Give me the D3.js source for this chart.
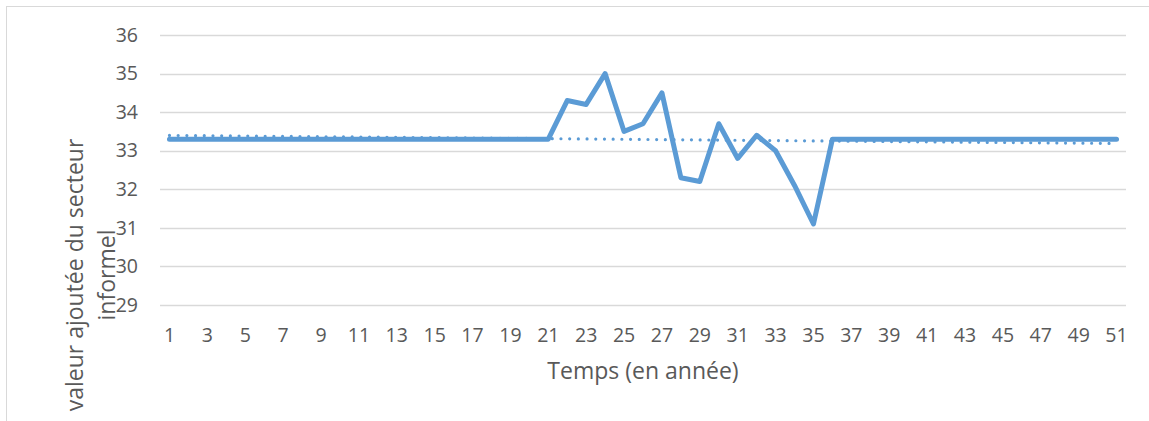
<!DOCTYPE html>
<html>
<head>
<meta charset="utf-8">
<script src="https://cdn.jsdelivr.net/npm/d3@7"></script>
<style>
  html, body { margin: 0; padding: 0; background: #fff; }
  svg { display: block; }
  text { font-family: "Open Sans", "Liberation Sans", sans-serif; fill: #595959; }
</style>
</head>
<body>
<svg id="chart" width="1149" height="421"></svg>
<script>
// ---- data ----
const years = d3.range(1, 52); // 1..51
const values = [
  33.3, 33.3, 33.3, 33.3, 33.3, 33.3, 33.3, 33.3, 33.3, 33.3,
  33.3, 33.3, 33.3, 33.3, 33.3, 33.3, 33.3, 33.3, 33.3, 33.3,
  33.3, 34.3, 34.2, 35.0, 33.5, 33.7, 34.5, 32.3, 32.2, 33.7,
  32.8, 33.4, 33.0, 32.1, 31.1, 33.3, 33.3, 33.3, 33.3, 33.3,
  33.3, 33.3, 33.3, 33.3, 33.3, 33.3, 33.3, 33.3, 33.3, 33.3,
  33.3
];
const yTicks = [29, 30, 31, 32, 33, 34, 35, 36];
const xTickLabels = years.filter(d => d % 2 === 1);
const xTitle = "Temps (en année)";
const yTitleLines = ["valeur ajoutée du secteur", "informel"];

// ---- layout ----
const svg = d3.select("#chart");
const plot = { left: 160, right: 1126, top: 35, bottom: 305 };
const color = "#5B9BD5";
const fontFam = '"Open Sans", "Liberation Sans", sans-serif';

// chart border
svg.append("rect").attr("x", 6.5).attr("y", 6.5).attr("width", 1200).attr("height", 500)
  .attr("fill", "none").attr("stroke", "#d9d9d9").attr("stroke-width", 1);

const x = d3.scaleBand().domain(years).range([plot.left, plot.right]).padding(0);
const xc = d => x(d) + x.bandwidth() / 2;
const y = d3.scaleLinear().domain([29, 36]).range([plot.bottom, plot.top]);

// gridlines
svg.append("g").selectAll("line").data(yTicks).join("line")
  .attr("x1", plot.left).attr("x2", plot.right)
  .attr("y1", d => Math.round(y(d)) + 0.5).attr("y2", d => Math.round(y(d)) + 0.5)
  .attr("stroke", "#d9d9d9").attr("stroke-width", 1.5);

// y axis labels
const yAxis = d3.axisLeft(y).tickValues(yTicks).tickFormat(d3.format("d")).tickSize(0).tickPadding(0);
const gy = svg.append("g").attr("transform", `translate(138,0)`).call(yAxis);
gy.select(".domain").remove();
gy.selectAll("text").attr("font-size", 19.5).attr("fill", "#595959").style("font-family", fontFam);

// x axis labels
const xAxis = d3.axisBottom(x).tickValues(xTickLabels).tickFormat(d3.format("d")).tickSize(0).tickPadding(0);
const gx = svg.append("g").attr("transform", `translate(0,${plot.bottom + 23})`).call(xAxis);
gx.select(".domain").remove();
gx.selectAll("text").attr("font-size", 19.5).attr("fill", "#595959").style("font-family", fontFam);

// linear trendline (least squares from the data)
const mx = d3.mean(years), my = d3.mean(values);
let sxy = 0, sxx = 0;
years.forEach((xv, i) => { sxy += (xv - mx) * (values[i] - my); sxx += (xv - mx) ** 2; });
const slope = sxy / sxx, intercept = my - slope * mx;
const trend = years.map(xv => intercept + slope * xv);

const line = d3.line().x((d, i) => xc(years[i])).y(d => y(d));

svg.append("path").datum(trend).attr("d", line)
  .attr("fill", "none").attr("stroke", color).attr("stroke-width", 3.2)
  .attr("stroke-linecap", "round").attr("stroke-dasharray", "0,8.7");

svg.append("path").datum(values).attr("d", line)
  .attr("fill", "none").attr("stroke", color).attr("stroke-width", 5)
  .attr("stroke-linejoin", "round").attr("stroke-linecap", "round");

// axis titles
svg.append("text").attr("x", (plot.left + plot.right) / 2).attr("y", 379)
  .attr("text-anchor", "middle").attr("font-size", 23).text(xTitle);

const yt = svg.append("text").attr("transform", "translate(0,275) rotate(-90)")
  .attr("text-anchor", "middle").attr("font-size", 23);
yt.append("tspan").attr("x", 0).attr("y", 83).text(yTitleLines[0]);
yt.append("tspan").attr("x", 0).attr("y", 115).text(yTitleLines[1]);
</script>
</body>
</html>
